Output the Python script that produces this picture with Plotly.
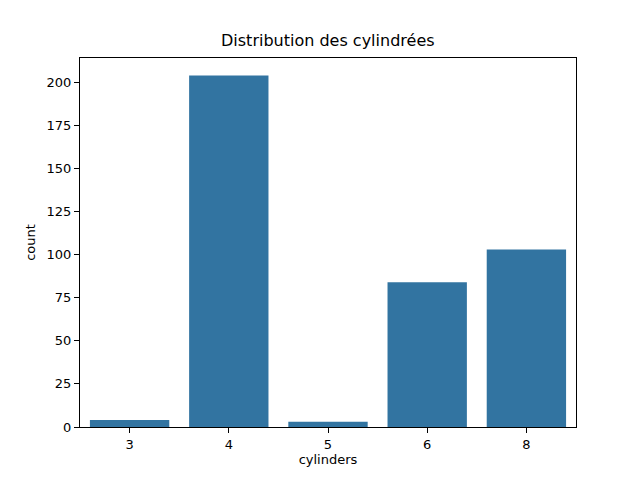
import plotly.graph_objects as go

categories = ["3", "4", "5", "6", "8"]
counts = [4, 204, 3, 84, 103]
y_ticks = [0, 25, 50, 75, 100, 125, 150, 175, 200]

fig = go.Figure()
fig.add_trace(go.Bar(x=categories, y=counts, marker=dict(color="#3274a1", line=dict(width=0)), width=0.8))

font = "DejaVu Sans"
fig.update_layout(
    width=632, height=472,
    margin=dict(l=72, r=64, t=50, b=53),
    paper_bgcolor="white", plot_bgcolor="white",
    font=dict(family=font, size=13, color="black"),
    showlegend=False,
    bargap=0.2,
)
fig.update_xaxes(
    type="category", range=[-0.5, 4.5],
    showline=True, linecolor="black", linewidth=1, mirror=True,
    ticks="outside", ticklen=5, tickwidth=1, tickcolor="black",
    showgrid=False, zeroline=False,
    title=dict(text="cylinders", font=dict(size=13), standoff=4),
)
fig.update_yaxes(
    range=[0, 214.2], tickvals=y_ticks,
    showline=True, linecolor="black", linewidth=1, mirror=True,
    ticks="outside", ticklen=5, tickwidth=1, tickcolor="black",
    showgrid=False, zeroline=False,
    title=dict(text="count", font=dict(size=13), standoff=8),
)
fig.add_annotation(
    text="Distribution des cylindrées", xref="paper", yref="paper",
    x=0.5, y=1, yshift=6, xanchor="center", yanchor="bottom",
    showarrow=False, font=dict(size=16, family=font, color="black"),
)
fig.write_html("out.html")
